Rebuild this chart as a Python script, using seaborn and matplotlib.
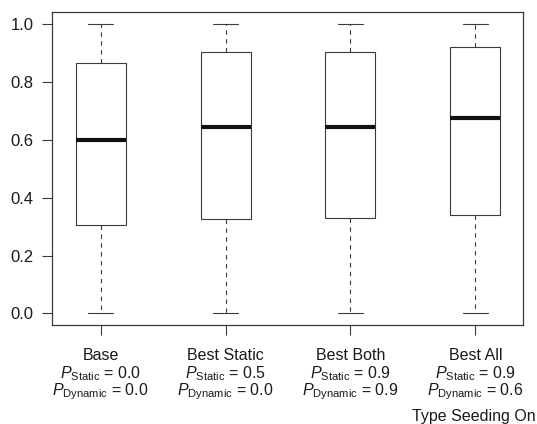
import numpy as np
import pandas as pd
import matplotlib
matplotlib.use("Agg")
import matplotlib.pyplot as plt
import seaborn as sns

# ---- data ----
categories = ["Base", "Best Static", "Best Both", "Best All"]
p_static = ["0.0", "0.5", "0.9", "0.9"]
p_dynamic = ["0.0", "0.0", "0.9", "0.6"]
whisker_low = [0.0, 0.0, 0.0, 0.0]
quartile1 = [0.306, 0.327, 0.328, 0.341]
median = [0.600, 0.645, 0.645, 0.676]
quartile3 = [0.865, 0.902, 0.902, 0.920]
whisker_high = [1.0, 1.0, 1.0, 1.0]
y_ticks = [0.0, 0.2, 0.4, 0.6, 0.8, 1.0]
footer = "Type Seeding On"

rows = []
for i, c in enumerate(categories):
    for v in (whisker_low[i], quartile1[i], median[i], quartile3[i], whisker_high[i]):
        rows.append({"cat": c, "val": v})
df = pd.DataFrame(rows)

sns.set_theme(style="ticks")
plt.rcParams["font.family"] = ["Liberation Sans", "DejaVu Sans"]
plt.rcParams["mathtext.fontset"] = "custom"
plt.rcParams["mathtext.rm"] = "Liberation Sans"
plt.rcParams["mathtext.it"] = "Liberation Sans:italic"
plt.rcParams["mathtext.bf"] = "Liberation Sans:bold"

W, H, DPI = 537, 424, 100
fig = plt.figure(figsize=(W / DPI, H / DPI), dpi=DPI)
ax = fig.add_axes([51.7 / W, 1 - 325 / H, (523 - 51.7) / W, (325 - 12.3) / H])

edge = "#3a3a3a"
sns.boxplot(
    data=df, x="cat", y="val", order=categories, ax=ax,
    width=0.4, whis=(0, 100), color="white", linecolor=edge, linewidth=0.8,
    boxprops=dict(facecolor="white", edgecolor=edge, linewidth=0.8),
    whiskerprops=dict(color=edge, linestyle=(0, (4, 4)), linewidth=0.8),
    capprops=dict(color=edge, linewidth=0.8),
    medianprops=dict(color="#111111", linewidth=3.0, solid_capstyle="butt"),
    showfliers=False,
)

ax.set_xlim(-0.392, 3.382)
ax.set_ylim(-0.04, 1.04)
ax.set_yticks(y_ticks)
ax.set_yticklabels([f"{t:.1f}" for t in y_ticks], fontsize=12)
ax.set_xticks(range(len(categories)))
ax.set_xticklabels([""] * len(categories))
ax.set_xlabel("")
ax.set_ylabel("")
for s in ax.spines.values():
    s.set_visible(True)
    s.set_color(edge)
    s.set_linewidth(0.9)
ax.tick_params(axis="both", length=7.2, width=0.8, color=edge, labelcolor="#1a1a1a")
ax.tick_params(axis="y", pad=6)

for i, c in enumerate(categories):
    kw = dict(xycoords=("data", "axes fraction"), textcoords="offset pixels",
              ha="center", va="center", fontsize=11.5, color="#1a1a1a", annotation_clip=False)
    ax.annotate(c, xy=(i, 0), xytext=(0, -31), **kw)
    ax.annotate(r"$P_{\mathrm{Static}}$ = " + p_static[i], xy=(i, 0), xytext=(0, -49), **kw)
    ax.annotate(r"$P_{\mathrm{Dynamic}}$ = " + p_dynamic[i], xy=(i, 0), xytext=(0, -67), **kw)

fig.text(412 / W, 1 - 417 / H, footer, ha="left", va="center", fontsize=11.5, color="#1a1a1a")

fig.savefig("out.png", dpi=DPI)
